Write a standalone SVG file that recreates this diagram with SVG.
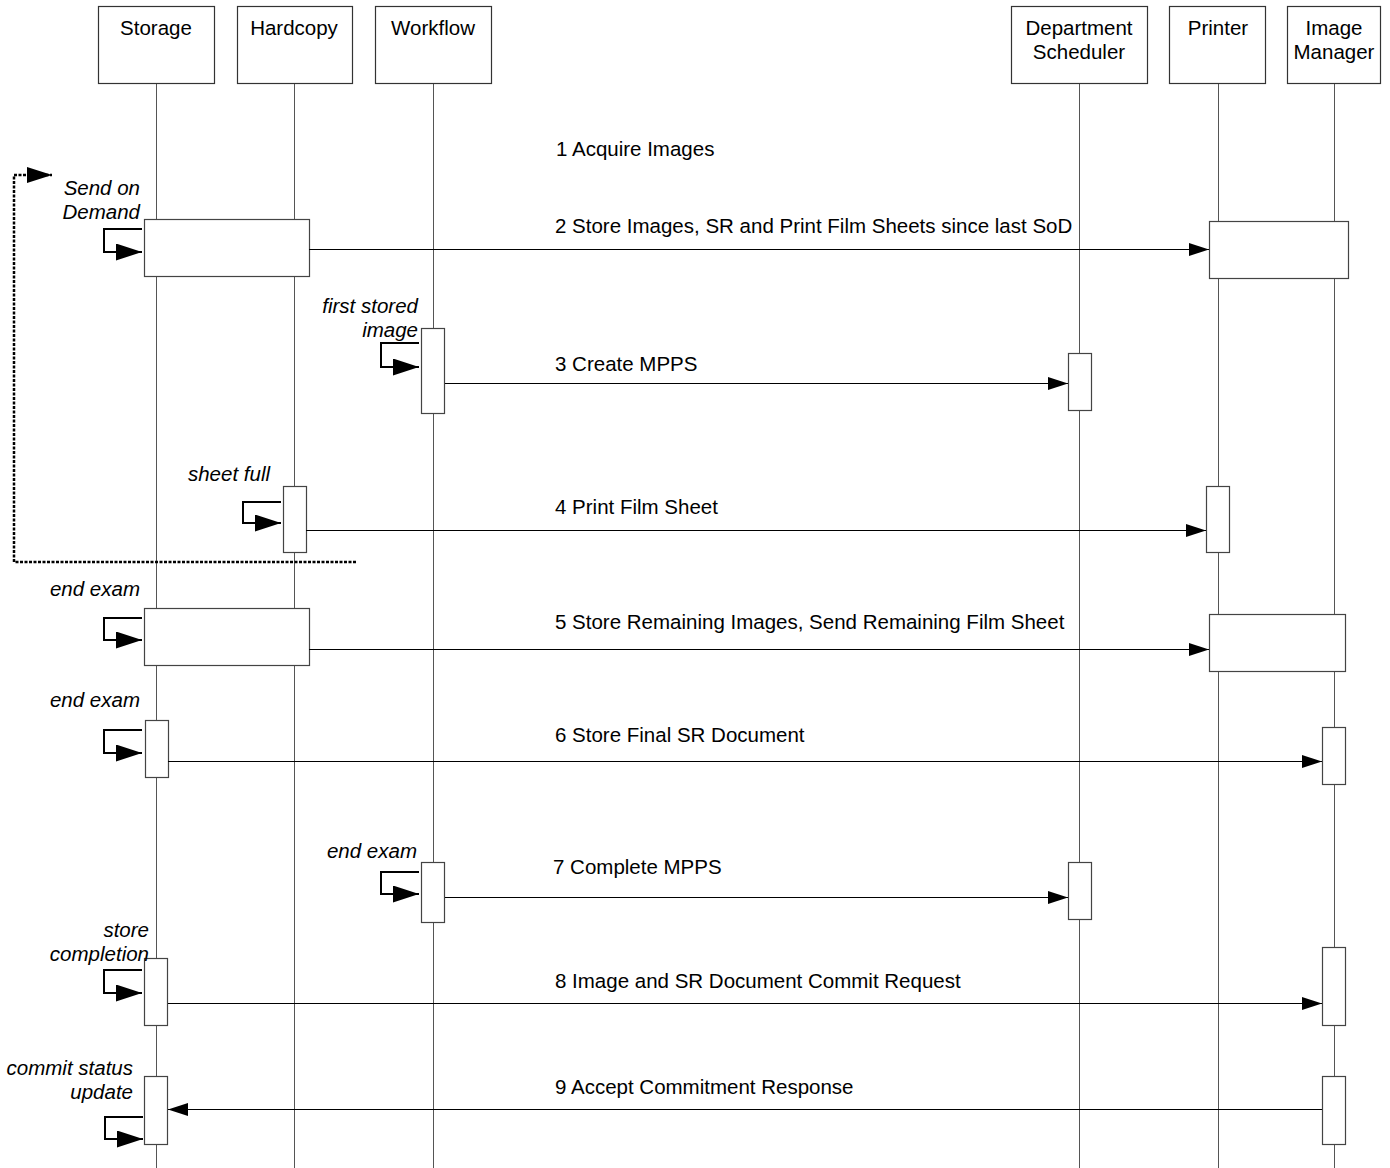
<svg xmlns="http://www.w3.org/2000/svg" width="1390" height="1168" viewBox="0 0 1390 1168">
<style>
.hdr{fill:#fff;stroke:#333;stroke-width:1.2}
.life{stroke:#555;stroke-width:1;fill:none}
.act{fill:#fff;stroke:#444;stroke-width:1.2}
.t{font-family:"Liberation Sans",Arial,sans-serif;font-size:20.5px;fill:#000}
.c{text-anchor:middle}
.i{font-style:italic;text-anchor:end}
.msg{stroke:#000;stroke-width:1;fill:none}
.self{stroke:#000;stroke-width:2;fill:none}
.dot{stroke:#000;stroke-width:2.5;fill:none;stroke-dasharray:3 1.5}
</style>
<defs>
<marker id="ah" markerWidth="20" markerHeight="13" refX="20" refY="6.5" orient="auto" markerUnits="userSpaceOnUse">
<path d="M0,0 L20,6.5 L0,13 Z" fill="#000"/>
</marker>
<marker id="sh" markerWidth="26" markerHeight="17" refX="26" refY="8.5" orient="auto" markerUnits="userSpaceOnUse">
<path d="M0,0 L26,8.5 L0,17 Z" fill="#000"/>
</marker>
<marker id="dh" markerWidth="25" markerHeight="16" refX="25" refY="8" orient="auto" markerUnits="userSpaceOnUse">
<path d="M0,0 L25,8 L0,16 Z" fill="#000"/>
</marker>
</defs>

<g id="lifelines">
<line class="life" x1="156.5" y1="83" x2="156.5" y2="1168"/>
<line class="life" x1="294.5" y1="83" x2="294.5" y2="1168"/>
<line class="life" x1="433.5" y1="83" x2="433.5" y2="1168"/>
<line class="life" x1="1079.5" y1="83" x2="1079.5" y2="1168"/>
<line class="life" x1="1218.5" y1="83" x2="1218.5" y2="1168"/>
<line class="life" x1="1334.5" y1="83" x2="1334.5" y2="1168"/>
</g>

<g id="storage">
<rect class="hdr" x="98.5" y="6.5" width="116" height="77"/>
<text class="t c" x="156" y="35">Storage</text>
</g>
<g id="hardcopy">
<rect class="hdr" x="237.5" y="6.5" width="115" height="77"/>
<text class="t c" x="294" y="35">Hardcopy</text>
</g>
<g id="workflow">
<rect class="hdr" x="375.5" y="6.5" width="116" height="77"/>
<text class="t c" x="433" y="35">Workflow</text>
</g>
<g id="department-scheduler">
<rect class="hdr" x="1011.5" y="6.5" width="136" height="77"/>
<text class="t c" x="1079" y="35">Department</text>
<text class="t c" x="1079" y="59">Scheduler</text>
</g>
<g id="printer">
<rect class="hdr" x="1169.5" y="6.5" width="96" height="77"/>
<text class="t c" x="1218" y="35">Printer</text>
</g>
<g id="image-manager">
<rect class="hdr" x="1287.5" y="6.5" width="93" height="77"/>
<text class="t c" x="1334" y="35">Image</text>
<text class="t c" x="1334" y="59">Manager</text>
</g>

<g id="activations">
<rect class="act" x="144.5" y="219.5" width="165" height="57"/>
<rect class="act" x="1209.5" y="221.5" width="139" height="57"/>
<rect class="act" x="421.5" y="328.5" width="23" height="85"/>
<rect class="act" x="1068.5" y="353.5" width="23" height="57"/>
<rect class="act" x="283.5" y="486.5" width="23" height="66"/>
<rect class="act" x="1206.5" y="486.5" width="23" height="66"/>
<rect class="act" x="144.5" y="608.5" width="165" height="57"/>
<rect class="act" x="1209.5" y="614.5" width="136" height="57"/>
<rect class="act" x="145.5" y="720.5" width="23" height="57"/>
<rect class="act" x="1322.5" y="727.5" width="23" height="57"/>
<rect class="act" x="421.5" y="862.5" width="23" height="60"/>
<rect class="act" x="1068.5" y="862.5" width="23" height="57"/>
<rect class="act" x="144.5" y="958.5" width="23" height="67"/>
<rect class="act" x="1322.5" y="947.5" width="23" height="78"/>
<rect class="act" x="144.5" y="1076.5" width="23" height="68"/>
<rect class="act" x="1322.5" y="1076.5" width="23" height="68"/>
</g>

<g id="connectors">
<path class="dot" d="M356,562 H14 V175 H52" marker-end="url(#dh)"/>
<line class="msg" x1="309" y1="249.5" x2="1209" y2="249.5" marker-end="url(#ah)"/>
<line class="msg" x1="445" y1="383.5" x2="1068" y2="383.5" marker-end="url(#ah)"/>
<line class="msg" x1="306" y1="530.5" x2="1206" y2="530.5" marker-end="url(#ah)"/>
<line class="msg" x1="309" y1="649.5" x2="1209" y2="649.5" marker-end="url(#ah)"/>
<line class="msg" x1="168" y1="761.5" x2="1322" y2="761.5" marker-end="url(#ah)"/>
<line class="msg" x1="445" y1="897.5" x2="1068" y2="897.5" marker-end="url(#ah)"/>
<line class="msg" x1="168" y1="1003.5" x2="1322" y2="1003.5" marker-end="url(#ah)"/>
<line class="msg" x1="1322" y1="1109.5" x2="168" y2="1109.5" marker-end="url(#ah)"/>
<path class="self" d="M142,229 H104 V252 H142" marker-end="url(#sh)"/>
<path class="self" d="M419,343 H381 V367 H419" marker-end="url(#sh)"/>
<path class="self" d="M281,502 H243 V523 H281" marker-end="url(#sh)"/>
<path class="self" d="M142,618 H104 V640 H142" marker-end="url(#sh)"/>
<path class="self" d="M142,730 H104 V753 H142" marker-end="url(#sh)"/>
<path class="self" d="M419,872 H381 V894 H419" marker-end="url(#sh)"/>
<path class="self" d="M142,970 H104 V993 H142" marker-end="url(#sh)"/>
<path class="self" d="M143,1117 H105 V1139 H143" marker-end="url(#sh)"/>
</g>

<g id="labels">
<text class="t" x="556" y="156">1 Acquire Images</text>
<text class="t" x="555" y="233">2 Store Images, SR and Print Film Sheets since last SoD</text>
<text class="t" x="555" y="371">3 Create MPPS</text>
<text class="t" x="555" y="514">4 Print Film Sheet</text>
<text class="t" x="555" y="629">5 Store Remaining Images, Send Remaining Film Sheet</text>
<text class="t" x="555" y="742">6 Store Final SR Document</text>
<text class="t" x="553" y="874">7 Complete MPPS</text>
<text class="t" x="555" y="988">8 Image and SR Document Commit Request</text>
<text class="t" x="555" y="1094">9 Accept Commitment Response</text>
<text class="t i" x="140" y="195">Send on</text>
<text class="t i" x="140" y="219">Demand</text>
<text class="t i" x="418" y="313">first stored</text>
<text class="t i" x="418" y="337">image</text>
<text class="t i" x="270" y="481">sheet full</text>
<text class="t i" x="140" y="596">end exam</text>
<text class="t i" x="140" y="707">end exam</text>
<text class="t i" x="417" y="858">end exam</text>
<text class="t i" x="149" y="937">store</text>
<text class="t i" x="149" y="961">completion</text>
<text class="t i" x="133" y="1075">commit status</text>
<text class="t i" x="133" y="1099">update</text>
</g>
</svg>
